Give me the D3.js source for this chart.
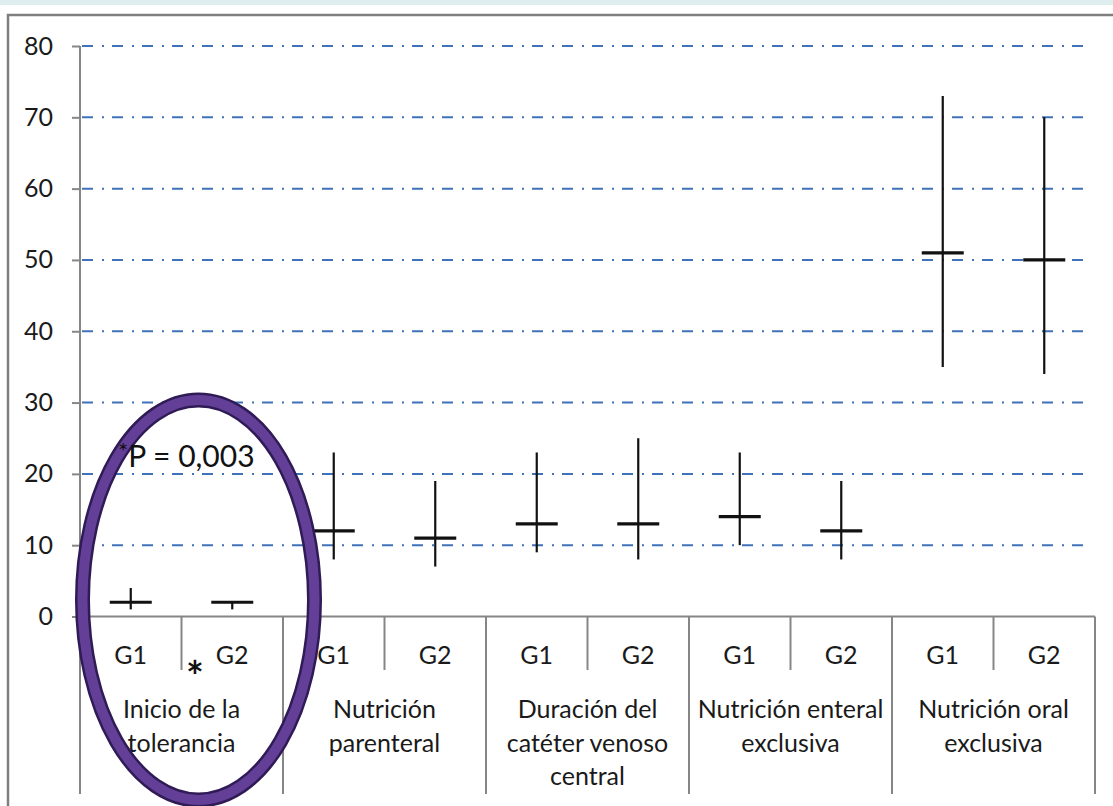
<!DOCTYPE html>
<html>
<head>
<meta charset="utf-8">
<script src="https://cdn.jsdelivr.net/npm/d3@7"></script>
<style>
  html, body { margin: 0; padding: 0; background: #fff; }
  svg { display: block; font-family: Lato, "Noto Sans", sans-serif; }
</style>
</head>
<body>
<div id="chart"></div>
<script>
// categories and groups
const categories = [
  ["Inicio de la", "tolerancia"],
  ["Nutrición", "parenteral"],
  ["Duración del", "catéter venoso", "central"],
  ["Nutrición enteral", "exclusiva"],
  ["Nutrición oral", "exclusiva"]
];
const groups = ["G1", "G2"];

// values per category, G1 then G2
const means = [[2, 2], [12, 11], [13, 13], [14, 12], [51, 50]];
const lows  = [[1, 1], [8, 7], [9, 8], [10, 8], [35, 34]];
const highs = [[4, 2], [23, 19], [23, 25], [23, 19], [73, 70]];

const yTicks = [0, 10, 20, 30, 40, 50, 60, 70, 80];

const width = 1113, height = 806;
const plot = { left: 80, right: 1095, top: 46, bottom: 616.5 };

const svg = d3.select("#chart").append("svg")
  .attr("width", width)
  .attr("height", height);

// top strip and frame
svg.append("rect").attr("x", 0).attr("y", 0).attr("width", width).attr("height", 5)
  .attr("fill", "#deeeee");
svg.append("path")
  .attr("d", `M8,${height} L8,15 L${width},15`)
  .attr("fill", "none").attr("stroke", "#7f7f7f").attr("stroke-width", 2.5);

const y = d3.scaleLinear().domain([0, 80]).range([plot.bottom, plot.top]);

// one slot per category/group pair
const slots = [];
categories.forEach((c, i) => groups.forEach((g, j) => slots.push({ ci: i, gi: j, key: i + "-" + j })));

const x = d3.scaleBand()
  .domain(slots.map(s => s.key))
  .range([plot.left, plot.right]);

// gridlines
svg.append("g")
  .selectAll("line")
  .data(yTicks.filter(t => t > 0))
  .join("line")
    .attr("x1", plot.left + 2)
    .attr("x2", plot.right - 5)
    .attr("y1", d => y(d))
    .attr("y2", d => y(d))
    .attr("stroke", "#3f72b9")
    .attr("stroke-width", 2)
    .attr("stroke-dasharray", "11,9,2,8");

// y axis
const yAxis = svg.append("g")
  .attr("transform", `translate(${plot.left},0)`)
  .call(d3.axisLeft(y).tickValues(yTicks).tickSize(8).tickPadding(19));
yAxis.select(".domain").remove();
yAxis.selectAll(".tick line").attr("stroke", "#868686").attr("stroke-width", 2);
yAxis.selectAll(".tick text")
  .attr("font-size", 25).attr("fill", "#1a1a1a").attr("font-family", "Lato, sans-serif");

const axisColor = "#868686";
const bottomY = 794;
const innerSepY = 670;

// axis lines
svg.append("line")
  .attr("x1", plot.left).attr("x2", plot.left)
  .attr("y1", plot.top).attr("y2", bottomY)
  .attr("stroke", axisColor).attr("stroke-width", 2);
svg.append("line")
  .attr("x1", plot.left).attr("x2", plot.right)
  .attr("y1", y(0)).attr("y2", y(0))
  .attr("stroke", axisColor).attr("stroke-width", 2);

// separators between categories
svg.append("g")
  .selectAll("line")
  .data(d3.range(1, categories.length + 1))
  .join("line")
    .attr("x1", i => i < categories.length ? x(i + "-0") : plot.right)
    .attr("x2", i => i < categories.length ? x(i + "-0") : plot.right)
    .attr("y1", y(0))
    .attr("y2", bottomY)
    .attr("stroke", axisColor).attr("stroke-width", 2);

// separators between G1 and G2
svg.append("g")
  .selectAll("line")
  .data(categories.map((c, i) => i))
  .join("line")
    .attr("x1", i => x(i + "-1"))
    .attr("x2", i => x(i + "-1"))
    .attr("y1", y(0))
    .attr("y2", innerSepY)
    .attr("stroke", axisColor).attr("stroke-width", 2);

// group labels
svg.append("g")
  .selectAll("text")
  .data(slots)
  .join("text")
    .attr("x", d => x(d.key) + x.bandwidth() / 2)
    .attr("y", 664)
    .attr("text-anchor", "middle")
    .attr("font-size", 25)
    .attr("fill", "#1a1a1a")
    .text(d => groups[d.gi]);

// category labels
const catG = svg.append("g");
categories.forEach((lines, i) => {
  const cx = x(i + "-1");
  const t = catG.append("text")
    .attr("text-anchor", "middle")
    .attr("font-size", 25)
    .attr("fill", "#1a1a1a");
  lines.forEach((ln, k) => {
    t.append("tspan").attr("x", cx).attr("y", 718 + k * 33.5).text(ln);
  });
});

// range lines and mean ticks
const marks = slots.map(s => ({
  key: s.key,
  mean: means[s.ci][s.gi],
  low: lows[s.ci][s.gi],
  high: highs[s.ci][s.gi]
}));
const markG = svg.append("g");
markG.selectAll("line.range")
  .data(marks)
  .join("line")
    .attr("class", "range")
    .attr("x1", d => x(d.key) + x.bandwidth() / 2)
    .attr("x2", d => x(d.key) + x.bandwidth() / 2)
    .attr("y1", d => y(d.low))
    .attr("y2", d => y(d.high))
    .attr("stroke", "#111").attr("stroke-width", 2.2);
markG.selectAll("line.mean")
  .data(marks)
  .join("line")
    .attr("class", "mean")
    .attr("x1", d => x(d.key) + x.bandwidth() / 2 - 21)
    .attr("x2", d => x(d.key) + x.bandwidth() / 2 + 21)
    .attr("y1", d => y(d.mean))
    .attr("y2", d => y(d.mean))
    .attr("stroke", "#111").attr("stroke-width", 3.2);

// highlight oval
const cx0 = x("0-1") + 17, cy0 = 600;
svg.append("ellipse")
  .attr("cx", cx0).attr("cy", cy0).attr("rx", 116).attr("ry", 200)
  .attr("fill", "none").attr("stroke", "#2f1b55").attr("stroke-width", 15);
svg.append("ellipse")
  .attr("cx", cx0).attr("cy", cy0).attr("rx", 116).attr("ry", 200)
  .attr("fill", "none").attr("stroke", "#643f98").attr("stroke-width", 10);

// annotation
const ann = svg.append("text")
  .attr("x", 118)
  .attr("y", 467)
  .attr("font-size", 30)
  .attr("fill", "#111");
ann.append("tspan").attr("dy", -7).attr("font-size", 24).text("*");
ann.append("tspan").attr("dy", 7).text("P = 0,003");

svg.append("text")
  .attr("x", 195)
  .attr("y", 692)
  .attr("text-anchor", "middle")
  .attr("font-size", 42)
  .attr("font-weight", 700)
  .attr("fill", "#111")
  .text("*");
</script>
</body>
</html>
